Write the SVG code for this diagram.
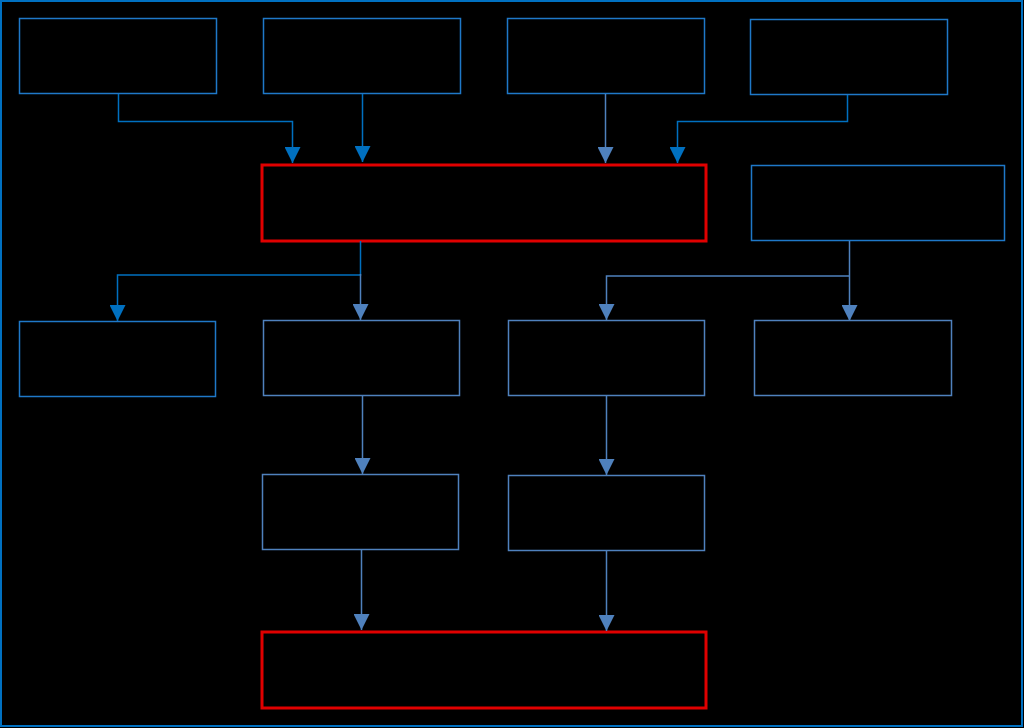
<svg xmlns="http://www.w3.org/2000/svg" width="1024" height="728" viewBox="0 0 1024 728">
<style>
.bg{fill:#000}
.frame{fill:none;stroke:#0070c0;stroke-width:2}
.nb{fill:#000;stroke:#1f78c8;stroke-width:1.5}
.nl{fill:#000;stroke:#4f81bd;stroke-width:1.5}
.nr{fill:#000;stroke:#e00000;stroke-width:3}
.cb{fill:none;stroke:#0070c0;stroke-width:1.5;marker-end:url(#ab)}
.cl{fill:none;stroke:#4f81bd;stroke-width:1.5;marker-end:url(#al)}
</style>
<defs>
<marker id="ab" markerUnits="userSpaceOnUse" markerWidth="16" markerHeight="16" viewBox="0 0 16 16" refX="8" refY="16" orient="0"><path d="M0,0 L16,0 L8,16 Z" fill="#0070c0"/></marker>
<marker id="al" markerUnits="userSpaceOnUse" markerWidth="16" markerHeight="16" viewBox="0 0 16 16" refX="8" refY="16" orient="0"><path d="M0,0 L16,0 L8,16 Z" fill="#4f81bd"/></marker>
</defs>
<rect class="bg" x="0" y="0" width="1024" height="728"/>
<rect class="frame" x="1" y="1" width="1021" height="725"/>
<g id="n1"><rect class="nb" x="19.5" y="18.5" width="197" height="75"/></g>
<g id="n2"><rect class="nb" x="263.5" y="18.5" width="197" height="75"/></g>
<g id="n3"><rect class="nb" x="507.5" y="18.5" width="197" height="75"/></g>
<g id="n4"><rect class="nb" x="750.5" y="19.5" width="197" height="75"/></g>
<g id="n5"><rect class="nr" x="262" y="165" width="444" height="76"/></g>
<g id="n6"><rect class="nb" x="751.5" y="165.5" width="253" height="75"/></g>
<g id="n7"><rect class="nb" x="19.5" y="321.5" width="196" height="75"/></g>
<g id="n8"><rect class="nl" x="263.5" y="320.5" width="196" height="75"/></g>
<g id="n9"><rect class="nl" x="508.5" y="320.5" width="196" height="75"/></g>
<g id="n10"><rect class="nl" x="754.5" y="320.5" width="197" height="75"/></g>
<g id="n11"><rect class="nl" x="262.5" y="474.5" width="196" height="75"/></g>
<g id="n12"><rect class="nl" x="508.5" y="475.5" width="196" height="75"/></g>
<g id="n13"><rect class="nr" x="262" y="632" width="444" height="76"/></g>
<g id="connectors">
<path class="cb" d="M118.5,94 V121.5 H292.5 V163"/>
<path class="cb" d="M362.5,94 V162"/>
<path class="cl" d="M605.5,94 V163"/>
<path class="cb" d="M847.5,95 V121.5 H677.5 V163"/>
<path class="cb" d="M360.5,241 V275 H117.5 V321"/>
<path class="cl" d="M360.5,274 V320"/>
<path class="cl" d="M849.5,241 V321"/>
<path class="cl" d="M849.5,276 H606.5 V320"/>
<path class="cl" d="M362.5,396 V474"/>
<path class="cl" d="M606.5,396 V475"/>
<path class="cl" d="M361.5,550 V630"/>
<path class="cl" d="M606.5,551 V631"/>
</g>
</svg>
